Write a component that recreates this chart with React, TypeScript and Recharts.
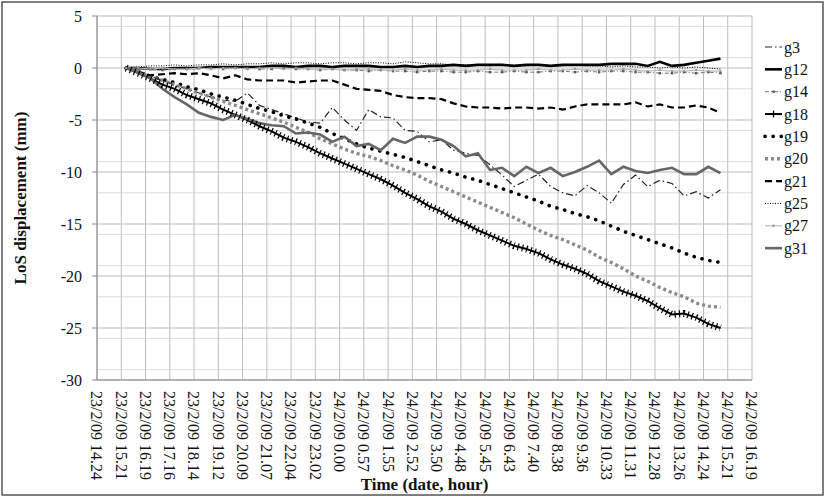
import React from 'react';
import { LineChart, Line, XAxis, YAxis, CartesianGrid } from 'recharts';

// tick labels of the time axis (one every ~57.5 min)
const timeLabels = [
  '23/2/09 14.24', '23/2/09 15.21', '23/2/09 16.19', '23/2/09 17.16', '23/2/09 18.14',
  '23/2/09 19.12', '23/2/09 20.09', '23/2/09 21.07', '23/2/09 22.04', '23/2/09 23.02',
  '24/2/09 0.00', '24/2/09 0.57', '24/2/09 1.55', '24/2/09 2.52', '24/2/09 3.50',
  '24/2/09 4.48', '24/2/09 5.45', '24/2/09 6.43', '24/2/09 7.40', '24/2/09 8.38',
  '24/2/09 9.36', '24/2/09 10.33', '24/2/09 11.31', '24/2/09 12.28', '24/2/09 13.26',
  '24/2/09 14.24', '24/2/09 15.21', '24/2/09 16.19',
];

const yTicks = [-30, -25, -20, -15, -10, -5, 0, 5];
const yMinor = [-29, -28, -27, -26, -24, -23, -22, -21, -19, -18, -17, -16, -14, -13, -12, -11, -9, -8, -7, -6, -4, -3, -2, -1, 1, 2, 3, 4];

// samples every half tick interval, first one at tick 1.2
const sampleStart = 1.2;
const sampleStep = 0.5;

const g3 = [0, -0.4, -0.8, -1.2, -1.6, -2.0, -2.4, -2.8, -3.1, -3.2, -2.4, -3.6, -4.0, -4.4, -4.8, -5.2, -5.3, -3.8, -5.0, -6.0, -4.0, -4.7, -4.8, -6.0, -6.1, -7.1, -6.9, -7.9, -8.2, -8.4, -9.3, -10.3, -11.4, -10.8, -10.2, -11.4, -12.0, -12.3, -11.3, -12.0, -13.0, -11.2, -10.3, -11.4, -10.8, -11.1, -12.3, -11.9, -12.5, -11.7];
const g12 = [0, 0, -0.1, -0.1, 0, 0, 0, 0.1, 0.1, 0.1, 0.1, 0.1, 0.2, 0.2, 0.1, 0.2, 0.2, 0.1, 0.2, 0.2, 0.2, 0.1, 0.1, 0.2, 0.1, 0.2, 0.2, 0.3, 0.2, 0.3, 0.3, 0.3, 0.2, 0.3, 0.3, 0.2, 0.3, 0.3, 0.3, 0.3, 0.4, 0.4, 0.4, 0.2, 0.6, 0.2, 0.3, 0.5, 0.7, 0.9];
const g14 = [0, -0.1, -0.1, -0.2, -0.1, -0.1, 0, 0, -0.1, 0, 0, -0.1, -0.1, 0, -0.1, -0.1, -0.2, -0.1, -0.2, -0.2, -0.3, -0.2, -0.3, -0.3, -0.4, -0.3, -0.3, -0.4, -0.4, -0.3, -0.4, -0.4, -0.3, -0.4, -0.4, -0.3, -0.3, -0.4, -0.3, -0.4, -0.3, -0.3, -0.4, -0.4, -0.5, -0.5, -0.4, -0.5, -0.4, -0.5];
const g18 = [0, -0.5, -1.0, -1.6, -2.0, -2.6, -3.0, -3.4, -4.0, -4.5, -5.0, -5.6, -6.1, -6.7, -7.1, -7.6, -8.2, -8.7, -9.2, -9.7, -10.2, -10.7, -11.3, -12.0, -12.6, -13.3, -13.8, -14.5, -15.0, -15.6, -16.1, -16.6, -17.1, -17.4, -17.8, -18.4, -18.9, -19.3, -19.8, -20.5, -21.0, -21.5, -21.9, -22.4, -23.1, -23.7, -23.6, -24.0, -24.6, -25.0];
const g19 = [0, -0.4, -0.8, -1.1, -1.4, -1.8, -2.1, -2.5, -2.8, -3.1, -3.5, -3.9, -4.2, -4.6, -4.9, -5.3, -5.7, -6.3, -6.8, -7.3, -7.7, -8.0, -8.3, -8.6, -9.0, -9.4, -9.8, -10.1, -10.5, -10.8, -11.2, -11.6, -12.0, -12.4, -12.8, -13.3, -13.6, -14.0, -14.3, -14.7, -15.2, -15.7, -16.1, -16.5, -16.9, -17.3, -17.8, -18.2, -18.5, -18.7];
const g20 = [0, -0.4, -0.8, -1.2, -1.6, -2.0, -2.4, -2.8, -3.2, -3.6, -4.0, -4.4, -4.8, -5.2, -5.7, -6.2, -6.8, -7.3, -7.8, -8.2, -8.5, -8.9, -9.4, -9.8, -10.3, -10.9, -11.4, -11.9, -12.4, -12.9, -13.4, -13.9, -14.4, -15.0, -15.6, -16.1, -16.5, -17.0, -17.5, -18.2, -18.7, -19.3, -20.0, -20.5, -21.1, -21.6, -22.0, -22.6, -22.9, -23.0];
const g21 = [0, -0.4, -0.7, -0.6, -0.5, -0.6, -0.5, -0.7, -1.0, -0.7, -1.1, -1.2, -1.2, -1.2, -1.4, -1.3, -1.2, -1.2, -1.6, -2.0, -2.1, -2.2, -2.6, -2.8, -2.9, -2.9, -3.0, -3.4, -3.7, -3.8, -3.8, -3.9, -3.8, -3.8, -3.9, -3.8, -4.0, -3.7, -3.5, -3.5, -3.5, -3.5, -3.3, -3.7, -3.5, -3.8, -3.8, -3.6, -3.8, -4.3];
const g25 = [0, 0.1, 0.2, 0.2, 0.3, 0.2, 0.3, 0.3, 0.4, 0.3, 0.4, 0.4, 0.5, 0.4, 0.5, 0.5, 0.4, 0.5, 0.5, 0.4, 0.5, 0.5, 0.4, 0.6, 0.5, 0.4, 0.4, 0.3, 0.3, 0.3, 0.2, 0.3, 0.2, 0.2, 0.3, 0.2, 0.2, 0.3, 0.2, 0.2, 0.1, 0.2, 0.1, 0.1, 0.0, 0.1, 0.0, 0.1, 0.0, -0.1];
const g27 = [0, 0, -0.1, 0, -0.1, -0.1, 0, -0.1, 0, 0, -0.1, 0, 0, -0.1, 0, -0.1, -0.1, -0.1, -0.2, -0.1, -0.1, -0.2, -0.2, -0.1, -0.2, -0.2, -0.1, -0.2, -0.2, -0.2, -0.1, -0.2, -0.2, -0.2, -0.1, -0.2, -0.2, -0.1, -0.2, -0.2, -0.2, -0.1, -0.2, -0.3, -0.2, -0.3, -0.3, -0.2, -0.3, -0.3];
const g31 = [0, -0.4, -1.0, -2.0, -2.8, -3.5, -4.3, -4.7, -5.0, -4.5, -4.9, -5.3, -5.5, -5.6, -6.3, -6.2, -6.4, -7.1, -6.6, -7.5, -7.3, -7.9, -6.8, -7.2, -6.6, -6.6, -6.9, -7.5, -8.5, -8.2, -9.8, -9.6, -10.4, -9.5, -10.1, -9.6, -10.4, -10.0, -9.5, -8.9, -10.2, -9.5, -9.9, -10.1, -9.8, -9.6, -10.2, -10.2, -9.5, -10.1];

const seriesValues: Record<string, number[]> = { g3, g12, g14, g18, g19, g20, g21, g25, g27, g31 };

const data = g3.map((_, i) => {
  const row: Record<string, number> = { x: sampleStart + i * sampleStep };
  Object.keys(seriesValues).forEach((k) => { row[k] = seriesValues[k][i]; });
  return row;
});

const FONT = '"Liberation Serif", "DejaVu Serif", serif';
const PLOT_TOP = 16;
const PLOT_BOTTOM = 380;
const PLOT_LEFT = 97;
const PLOT_RIGHT = 752;

type Style = { key: string; color: string; width: number; dash?: string; cap?: 'round' | 'butt'; marker?: 'cross' | 'dot' | 'square' };

const styles: Style[] = [
  { key: 'g3', color: '#222', width: 1.2, dash: '7 3 1.5 3' },
  { key: 'g12', color: '#000', width: 2.6 },
  { key: 'g14', color: '#777', width: 1, dash: '4 2 1 2', marker: 'square' },
  { key: 'g18', color: '#000', width: 2, marker: 'cross' },
  { key: 'g19', color: '#000', width: 3.6, dash: '0.1 8', cap: 'round' },
  { key: 'g20', color: '#8a8a8a', width: 3.4, dash: '3 3' },
  { key: 'g21', color: '#000', width: 2.2, dash: '7 4' },
  { key: 'g25', color: '#000', width: 1, dash: '1 1.5' },
  { key: 'g27', color: '#bbb', width: 1.2, marker: 'dot' },
  { key: 'g31', color: '#666', width: 2.6 },
];

function markerFor(s: Style) {
  if (!s.marker || s.marker === 'cross') return false;
  return (p: any) => {
    const { cx, cy, index } = p;
    if (cx == null || cy == null) return <g key={index} />;
    if (s.marker === 'square') {
      return <rect key={index} x={cx - 1.2} y={cy - 1.2} width={2.4} height={2.4} fill="#555" />;
    }
    return <circle key={index} cx={cx} cy={cy} r={1.2} fill="#999" />;
  };
}

const XTick = (props: any) => {
  const { x, payload } = props;
  const y = PLOT_BOTTOM + 11;
  return (
    <text x={x} y={y} transform={`rotate(90 ${x} ${y})`} dy="0.35em" textAnchor="start"
      fontSize={16} fontFamily={FONT} fill="#111">
      {timeLabels[payload.value]}
    </text>
  );
};

function LegendSample({ s, y }: { s: Style; y: number }) {
  const x1 = 765;
  const x2 = 782;
  return (
    <g>
      <line x1={x1} x2={x2} y1={y} y2={y} stroke={s.color} strokeWidth={s.width}
        strokeDasharray={s.dash} strokeLinecap={s.cap || 'butt'} />
      {s.marker === 'cross' && <path d={`M${(x1 + x2) / 2},${y - 3.5}v7`} stroke="#000" strokeWidth={1.3} />}
      {s.marker === 'dot' && <circle cx={(x1 + x2) / 2} cy={y} r={1.3} fill="#999" />}
      {s.marker === 'square' && <rect x={(x1 + x2) / 2 - 1.2} y={y - 1.2} width={2.4} height={2.4} fill="#555" />}
      <text x={784} y={y} dy="0.35em" fontSize={16} fontFamily={FONT} fill="#111">{s.key}</text>
    </g>
  );
}

export default function App() {
  return (
    <div style={{ position: 'absolute', left: 0, top: 0, width: 825, height: 497, background: '#fff' }}>
      <LineChart width={825} height={497} data={data}
        margin={{ top: PLOT_TOP, right: 825 - PLOT_RIGHT, left: 0, bottom: 0 }}>
        <CartesianGrid horizontalValues={yMinor} vertical={false} stroke="#dcdcdc" strokeWidth={1} />
        <CartesianGrid horizontalValues={yTicks} verticalValues={timeLabels.map((_, i) => i)} stroke="#bdbdbd" strokeWidth={1} />
        <XAxis type="number" dataKey="x" domain={[0, timeLabels.length - 1]} ticks={timeLabels.map((_, i) => i)}
          interval={0} height={497 - PLOT_BOTTOM} tickLine={false} axisLine={{ stroke: '#888' }} tick={<XTick />} />
        <YAxis domain={[-30, 5]} ticks={yTicks} width={PLOT_LEFT} tickSize={5} tickMargin={10}
          tickLine={{ stroke: '#888' }} axisLine={{ stroke: '#888' }}
          tick={{ fontSize: 16, fontFamily: FONT, fill: '#111' }} />
        {styles.map((s) => (
          <Line key={s.key} dataKey={s.key} type="linear" stroke={s.color} strokeWidth={s.width}
            strokeDasharray={s.dash} strokeLinecap={s.cap || 'butt'} dot={markerFor(s)}
            activeDot={false} isAnimationActive={false} legendType="none" />
        ))}
        {/* dense "+" markers of g18: short bars drawn across the line */}
        <Line dataKey="g18" type="linear" stroke="#000" strokeWidth={7} strokeDasharray="1.2 3.2"
          dot={false} activeDot={false} isAnimationActive={false} legendType="none" />
      </LineChart>
      <svg width={825} height={497} style={{ position: 'absolute', left: 0, top: 0, pointerEvents: 'none' }}>
        <rect x={2} y={2} width={821} height={493} fill="none" stroke="#555" strokeWidth={1.5} />
        <text x={20} y={(PLOT_TOP + PLOT_BOTTOM) / 2} transform={`rotate(-90 20 ${(PLOT_TOP + PLOT_BOTTOM) / 2})`}
          dy="0.35em" textAnchor="middle" fontSize={17} fontWeight="bold" fontFamily={FONT} fill="#111">
          LoS displacement (mm)
        </text>
        <text x={(PLOT_LEFT + PLOT_RIGHT) / 2} y={490} textAnchor="middle" fontSize={17} fontWeight="bold"
          fontFamily={FONT} fill="#111">
          Time (date, hour)
        </text>
        {styles.map((s, i) => (
          <LegendSample key={s.key} s={s} y={47 + i * 22.35} />
        ))}
      </svg>
    </div>
  );
}
